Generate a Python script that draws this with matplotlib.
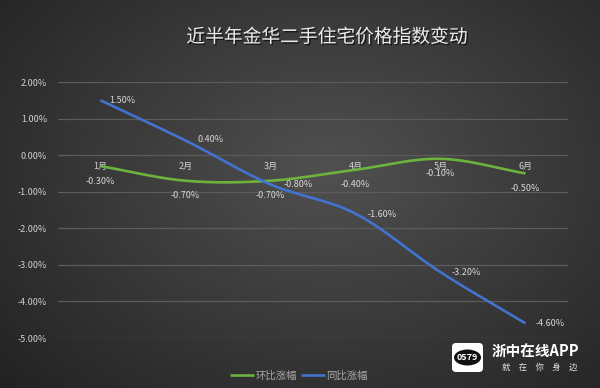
import numpy as np
import matplotlib
matplotlib.use("Agg")
import matplotlib.pyplot as plt
from matplotlib.patches import FancyBboxPatch, Ellipse
import matplotlib.patheffects as pe

plt.rcParams['font.family'] = ['Noto Sans CJK SC', 'DejaVu Sans']

# ---- data ----
title = "近半年金华二手住宅价格指数变动"
months = ["1月", "2月", "3月", "4月", "5月", "6月"]
mom = [-0.30, -0.70, -0.70, -0.40, -0.10, -0.50]   # 环比涨幅
yoy = [1.50, 0.40, -0.80, -1.60, -3.20, -4.60]     # 同比涨幅
series_names = ["环比涨幅", "同比涨幅"]
yticks = [2, 1, 0, -1, -2, -3, -4, -5]

GREEN = "#6cb33e"
BLUE = "#4273cf"


def catmull_rom(x, y, n=30):
    x = np.asarray(x, float)
    y = np.asarray(y, float)
    px = np.concatenate([[2 * x[0] - x[1]], x, [2 * x[-1] - x[-2]]])
    py = np.concatenate([[2 * y[0] - y[1]], y, [2 * y[-1] - y[-2]]])
    xs, ys = [], []
    for i in range(1, len(px) - 2):
        t = np.linspace(0, 1, n, endpoint=(i == len(px) - 3))
        for arr, out in ((px, xs), (py, ys)):
            p0, p1, p2, p3 = arr[i - 1], arr[i], arr[i + 1], arr[i + 2]
            out.append(0.5 * ((2 * p1) + (-p0 + p2) * t
                              + (2 * p0 - 5 * p1 + 4 * p2 - p3) * t ** 2
                              + (-p0 + 3 * p1 - 3 * p2 + p3) * t ** 3))
    return np.concatenate(xs), np.concatenate(ys)


W, H = 600, 388
fig = plt.figure(figsize=(W / 100, H / 100), dpi=100)

# background radial gradient
bg = fig.add_axes([0, 0, 1, 1], zorder=-10)
yy, xx = np.mgrid[0:H, 0:W]
r = np.sqrt(((xx - 330) / 420.0) ** 2 + ((yy - 170) / 300.0) ** 2)
v = np.clip(0.315 - 0.17 * r, 0.12, 0.33)
bg.imshow(np.dstack([v, v, v]), extent=[0, 1, 0, 1], aspect='auto', origin='upper')
bg.axis('off')

ax = fig.add_axes([58 / W, 1 - 338 / H, 510 / W, 256 / H])
ax.patch.set_alpha(0)
ax.set_xlim(-0.5, 5.5)
ax.set_ylim(-5, 2)
ax.set_yticks(yticks)
ax.set_yticklabels([f"{t:.2f}%" for t in yticks], color="#d0d0d0", fontsize=6.5)
ax.tick_params(axis='y', length=0, pad=8)
ax.set_xticks([])
for s in ax.spines.values():
    s.set_visible(False)
ax.grid(axis='y', color="#5c5c5c", linewidth=0.9)
ax.set_axisbelow(True)

x = np.arange(len(months))

# category labels at zero line
for i, m in enumerate(months):
    ax.annotate(m, (i, 0), xytext=(0, -8.2), textcoords='offset points',
                ha='center', va='center', fontsize=6.5, color="#d0d0d0", zorder=1)

sx, sy = catmull_rom(x, mom)
ax.plot(sx, sy, color=GREEN, lw=1.9, solid_capstyle='butt', zorder=3, label=series_names[0])
sx, sy = catmull_rom(x, yoy)
ax.plot(sx, sy, color=BLUE, lw=1.9, solid_capstyle='butt', zorder=3, label=series_names[1])

for i, v_ in enumerate(mom):
    ax.annotate(f"{v_:.2f}%", (i, v_), xytext=(0, -10.8), textcoords='offset points',
                ha='center', va='center', fontsize=6.5, color="#d8d8d8", zorder=4)
blue_off = [(6.5, 0), (8.5, 0.5), (9.3, 0), (8.6, -0.7), (8, 0), (7.3, 0)]
for i, v_ in enumerate(yoy):
    dx, dy = blue_off[i]
    ax.annotate(f"{v_:.2f}%", (i, v_), xytext=(dx, dy), textcoords='offset points',
                ha='left', va='center', fontsize=6.5, color="#d8d8d8", zorder=4)

# title
fig.text(327 / W, 1 - 37 / H, title, ha='center', va='center', fontsize=13.5,
         color="#ececec",
         path_effects=[pe.withSimplePatchShadow(offset=(1, -1), shadow_rgbFace='black', alpha=0.6)])

# legend
fig.legend(loc='center', bbox_to_anchor=(299 / W, 1 - 376 / H), ncol=2, frameon=False,
           handlelength=2.3, columnspacing=0.3, handletextpad=0.15, fontsize=7.5,
           labelcolor="#a8a8a8")

# app watermark
ax_w = fig.add_axes([0, 0, 1, 1], zorder=10)
ax_w.set_xlim(0, W)
ax_w.set_ylim(H, 0)
ax_w.axis('off')
ax_w.add_patch(FancyBboxPatch((452, 343), 31, 29, boxstyle="round,pad=0,rounding_size=4",
                              fc="white", ec="none"))
ax_w.add_patch(Ellipse((467.5, 357.5), 27, 16, fc="#111111", ec="none"))
ax_w.text(467.5, 357.8, "0579", ha='center', va='center', fontsize=6.5, color="white",
          fontweight='bold')
ax_w.text(492, 352, "浙中在线APP", ha='left', va='center', fontsize=10.5, color="white",
          fontweight='bold')
ax_w.text(540, 367, "就　在　你　身　边", ha='center', va='center', fontsize=6,
          color="#e0e0e0")

fig.savefig("out.png", dpi=100)
